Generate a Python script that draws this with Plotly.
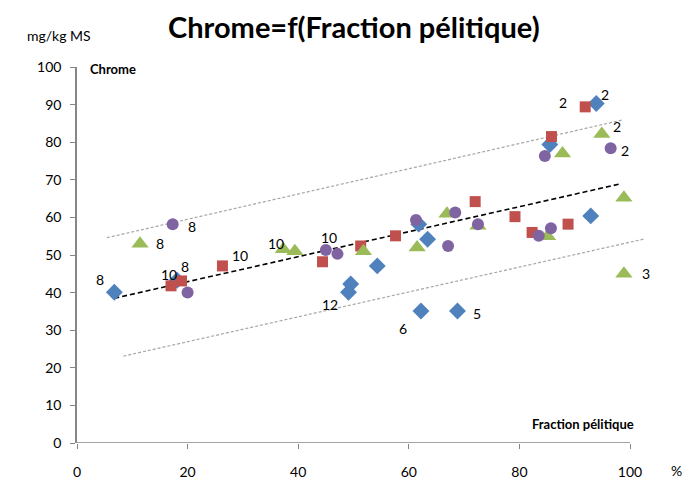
import plotly.graph_objects as go

# Fraction pélitique (%) vs chrome (mg/kg MS), four sample series
s1_x = [6.75, 18.1, 49.5, 49.1, 54.3, 61.8, 63.4, 62.2, 68.8, 85.5, 93.9, 92.9]
s1_y = [40.1, 43.3, 42.3, 40.1, 47.1, 58.2, 54.2, 35.1, 35.1, 79.4, 90.3, 60.4]

s2_x = [17.0, 18.9, 26.3, 44.4, 51.3, 57.6, 72.0, 79.2, 82.3, 88.8, 85.8, 91.9]
s2_y = [41.8, 43.1, 47.1, 48.2, 52.4, 55.1, 64.2, 60.2, 56.0, 58.2, 81.5, 89.4]

s3_x = [11.4, 37.3, 39.4, 51.8, 61.5, 66.9, 72.5, 85.1, 87.8, 94.9, 98.9, 98.9]
s3_y = [53.0, 51.5, 51.0, 51.0, 52.0, 61.0, 57.8, 55.0, 77.0, 82.2, 65.2, 45.0]

s4_x = [17.3, 20.0, 45.0, 47.1, 61.3, 67.1, 68.4, 72.5, 83.5, 85.7, 84.6, 96.5]
s4_y = [58.2, 40.0, 51.3, 50.3, 59.3, 52.4, 61.3, 58.2, 55.1, 57.1, 76.3, 78.4]

# Trend line and envelope lines (end points)
trend_x = [6.75, 98.2]
trend_y = [38.5, 68.9]
upper_x = [5.4, 98.6]
upper_y = [54.6, 85.9]
lower_x = [8.4, 102.7]
lower_y = [23.1, 54.3]

# Point labels: x, y and text
lab_x = [6.75, 11.4, 17.3, 17.0, 18.9, 26.3, 37.3, 45.0, 49.1, 62.2, 68.8, 91.9, 93.9, 94.9, 96.5, 98.9]
lab_y = [40.1, 53.0, 58.2, 41.8, 43.1, 47.1, 51.5, 51.3, 40.1, 35.1, 35.1, 89.4, 90.3, 82.2, 78.4, 45.0]
lab_text = ["8", "8", "8", "10", "8", "10", "10", "10", "12", "6", "5", "2", "2", "2", "2", "3"]
# label offsets in pixels (dx, dy-up)
lab_off = [(-14, 13), (20, 0), (19, -2), (-2, 11), (3, 14), (18, 10), (-7, 6), (3, 13),
           (-19, -12), (-18, -17), (20, -2), (-22, 4), (9, 9), (15, 7), (14, -2), (22, 0)]

FONT = "Lato"
L, R, T, B = 77, 51, 67, 41
W, H = 698, 484
PW, PH = W - L - R, H - T - B
XMAX = 100 * PW / 553.0


def px(xp):
    return (xp - L) / PW


def py(yp):
    return (H - B - yp) / PH


fig = go.Figure()

fig.add_trace(go.Scatter(x=upper_x, y=upper_y, mode="lines",
                         line=dict(color="#A6A6A6", width=1.2, dash="3px,2px"), showlegend=False))
fig.add_trace(go.Scatter(x=lower_x, y=lower_y, mode="lines",
                         line=dict(color="#A6A6A6", width=1.2, dash="3px,2px"), showlegend=False))
fig.add_trace(go.Scatter(x=trend_x, y=trend_y, mode="lines",
                         line=dict(color="black", width=1.6, dash="5px,3px"), showlegend=False))

fig.add_trace(go.Scatter(x=s1_x, y=s1_y, mode="markers", showlegend=False,
                         marker=dict(symbol="diamond", size=13, color="#4F81BD")))
fig.add_trace(go.Scatter(x=s2_x, y=s2_y, mode="markers", showlegend=False,
                         marker=dict(symbol="square", size=11, color="#C0504D")))
fig.add_trace(go.Scatter(x=s3_x, y=s3_y, mode="markers", showlegend=False,
                         marker=dict(symbol="triangle-up", size=15, color="#9BBB59")))
fig.add_trace(go.Scatter(x=s4_x, y=s4_y, mode="markers", showlegend=False,
                         marker=dict(symbol="circle", size=12, color="#8064A2")))

annotations = []
for x, y, t, (dx, dy) in zip(lab_x, lab_y, lab_text, lab_off):
    annotations.append(dict(x=x, y=y, xref="x", yref="y", text=t, showarrow=False,
                            xshift=dx, yshift=dy, font=dict(family=FONT, size=14, color="black")))

annotations += [
    dict(x=px(354), y=py(26), text="<b>Chrome=f(Fraction pélitique)</b>", xanchor="center",
         font=dict(family=FONT, size=29, color="black")),
    dict(x=px(25), y=py(35), text="mg/kg MS", xanchor="left",
         font=dict(family=FONT, size=14, color="black")),
    dict(x=px(88), y=py(69), text="<b>Chrome</b>", xanchor="left",
         font=dict(family=FONT, size=13, color="black")),
    dict(x=px(636), y=py(424), text="<b>Fraction pélitique</b>", xanchor="right",
         font=dict(family=FONT, size=13, color="black")),
    dict(x=px(676), y=py(470), text="%", xanchor="center",
         font=dict(family=FONT, size=14, color="black")),
]
for a in annotations[len(lab_x):]:
    a.update(xref="paper", yref="paper", yanchor="middle", showarrow=False)

# x axis line drawn only over 0..100
shapes = [dict(type="line", xref="x", yref="y", x0=0, x1=100, y0=0, y1=0,
               line=dict(color="#868686", width=1.5))]

fig.update_layout(
    width=W, height=H,
    margin=dict(l=L, r=R, t=T, b=B, autoexpand=False),
    paper_bgcolor="white", plot_bgcolor="white",
    font=dict(family=FONT, size=14, color="black"),
    annotations=annotations, shapes=shapes,
    xaxis=dict(range=[0, XMAX], tickvals=[0, 20, 40, 60, 80, 100], showgrid=False, zeroline=False,
               showline=False, ticks="outside", ticklen=5, tickcolor="#868686", tickwidth=1.2,
               ticklabelstandoff=11, automargin=False, tickfont=dict(family=FONT, size=14)),
    yaxis=dict(range=[0, 100], dtick=10, showgrid=False, zeroline=False, showline=True,
               linecolor="#868686", linewidth=1.5, ticks="outside", ticklen=5, tickcolor="#868686",
               tickwidth=1.2, ticklabelstandoff=6, automargin=False, tickfont=dict(family=FONT, size=14)),
)

fig.write_html("out.html")
